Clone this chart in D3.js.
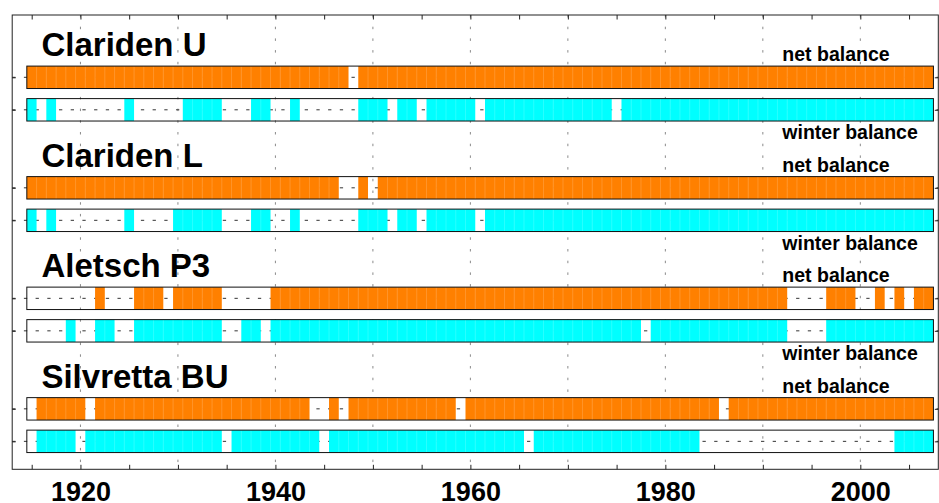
<!DOCTYPE html>
<html><head><meta charset="utf-8">
<script src="https://cdn.jsdelivr.net/npm/d3@7/dist/d3.min.js"></script>
<style>
body{margin:0;background:#fff}
svg{display:block}
text{font-family:"Liberation Sans",Arial,Helvetica,sans-serif;font-weight:bold;fill:#000}
</style>
</head><body>
<svg id="chart" width="939" height="503"></svg>
<script>
// ---- data ----
const glaciers = ["Clariden U", "Clariden L", "Aletsch P3", "Silvretta BU"];
const firstYear = 1915, lastYear = 2007;
const tickYears = [1920, 1940, 1960, 1980, 2000];
// runs of years with measurements [from, to]
const claridenUNet    = [[1915,1947],[1949,2007]];
const claridenUWinter = [[1915,1915],[1917,1917],[1925,1925],[1931,1934],[1938,1939],[1942,1942],[1949,1951],[1953,1954],[1956,1960],[1962,1974],[1976,2007]];
const claridenLNet    = [[1915,1946],[1949,1949],[1951,2007]];
const claridenLWinter = [[1915,1915],[1917,1917],[1925,1925],[1930,1934],[1938,1939],[1942,1942],[1949,1951],[1953,1954],[1956,1960],[1962,2007]];
const aletschNet      = [[1922,1922],[1926,1928],[1930,1934],[1940,1992],[1997,1999],[2002,2002],[2004,2004],[2006,2007]];
const aletschWinter   = [[1919,1919],[1922,1923],[1926,1934],[1937,1938],[1940,1977],[1979,1992],[1997,2007]];
const silvrettaNet    = [[1916,1920],[1922,1943],[1946,1946],[1948,1958],[1960,1985],[1987,2007]];
const silvrettaWinter = [[1916,1919],[1921,1934],[1936,1944],[1946,1965],[1967,1983],[2004,2007]];
const netSeries    = [claridenUNet, claridenLNet, aletschNet, silvrettaNet];
const winterSeries = [claridenUWinter, claridenLWinter, aletschWinter, silvrettaWinter];
const showWinterLabel = [true, true, true, false];

(function draw() {
  const svg = d3.select("#chart");
  const x = d3.scaleLinear().domain([1913, 2008]).range([12.2, 938.3]);
  const y = d3.scaleLinear().domain([-0.917, 13.06]).range([15, 469.3]);
  const groupStep = 3.4, half = 0.345;
  const colors = {net: "#ff8000", winter: "#00ffff"};

  const rows = [];
  glaciers.forEach((g, i) => {
    rows.push({name: g, kind: "net", pos: i * groupStep + 1, runs: netSeries[i]});
    rows.push({name: g, kind: "winter", pos: i * groupStep + 2, runs: winterSeries[i]});
  });
  const rowPos = rows.map(r => r.pos);
  const [xa, xb] = x.range(), [ya, yb] = y.range();

  // grid
  const gGrid = svg.append("g");
  gGrid.selectAll("line.v").data(d3.range(1920, 2001, 10)).join("line")
    .attr("x1", d => x(d)).attr("x2", d => x(d))
    .attr("y1", ya).attr("y2", yb)
    .attr("stroke", "#8a8a8a").attr("stroke-width", 1).attr("stroke-dasharray", "2.5,9.2");
  gGrid.selectAll("line.h").data(rowPos).join("line")
    .attr("x1", xa).attr("x2", xb)
    .attr("y1", d => y(d)).attr("y2", d => y(d))
    .attr("stroke", "#333").attr("stroke-width", 1).attr("stroke-dasharray", "3.3,8.4");

  // bars: one cell per measured year
  const gBars = svg.append("g");
  rows.forEach(r => {
    const yrs = r.runs.flatMap(([a, b]) => d3.range(a, b + 1));
    const yt = y(r.pos - half), hh = y(r.pos + half) - y(r.pos - half);
    const cells = gBars.append("g");
    cells.selectAll("rect").data(yrs).join("rect")
      .attr("x", d => x(d - 0.5))
      .attr("width", d => x(d + 0.5) - x(d - 0.5) + (yrs.includes(d + 1) ? 0.6 : 0))
      .attr("y", yt).attr("height", hh)
      .attr("fill", colors[r.kind]);
    // faint seams between adjacent yearly cells
    cells.selectAll("line").data(yrs.filter(d => yrs.includes(d + 1))).join("line")
      .attr("x1", d => x(d + 0.5)).attr("x2", d => x(d + 0.5))
      .attr("y1", yt).attr("y2", yt + hh)
      .attr("stroke", "#fff").attr("stroke-opacity", 0.16).attr("stroke-width", 1);
    gBars.append("rect")
      .attr("x", x(firstYear - 0.5)).attr("width", x(lastYear + 0.5) - x(firstYear - 0.5))
      .attr("y", yt).attr("height", hh)
      .attr("fill", "none").attr("stroke", "#111").attr("stroke-width", 1);
  });

  // axes box
  svg.append("rect").attr("x", xa).attr("y", ya).attr("width", xb - xa).attr("height", yb - ya)
    .attr("fill", "none").attr("stroke", "#222").attr("stroke-width", 1);

  const allTicks = d3.range(1915, 2006, 5);
  const axB = svg.append("g").attr("transform", `translate(0,${yb})`)
    .call(d3.axisBottom(x).tickValues(allTicks).tickSizeInner(-4.5).tickSizeOuter(0).tickPadding(2)
      .tickFormat(d => tickYears.includes(d) ? String(d) : ""));
  axB.select(".domain").remove();
  axB.selectAll("text").attr("font-size", 27).attr("dy", null).attr("y", 31.5)
    .style("font-family", '"Liberation Sans",Arial,sans-serif').style("font-weight", "bold").style("fill", "#000");

  const axT = svg.append("g").attr("transform", `translate(0,${ya})`)
    .call(d3.axisTop(x).tickValues(allTicks).tickSizeInner(-4.5).tickSizeOuter(0).tickFormat(""));
  axT.select(".domain").remove();

  const axL = svg.append("g").attr("transform", `translate(${xa},0)`)
    .call(d3.axisLeft(y).tickValues(rowPos).tickSizeInner(-3.5).tickSizeOuter(0).tickFormat(""));
  axL.select(".domain").remove();
  const axR = svg.append("g").attr("transform", `translate(${xb},0)`)
    .call(d3.axisRight(y).tickValues(rowPos).tickSizeInner(-3.5).tickSizeOuter(0).tickFormat(""));
  axR.select(".domain").remove();
  svg.selectAll(".tick line").attr("stroke", "#222");

  // labels
  glaciers.forEach((g, i) => {
    const net = i * groupStep + 1, win = net + 1;
    svg.append("text").attr("x", x(1916)).attr("y", y(net) - 21.2)
      .attr("font-size", 33).text(g);
    svg.append("text").attr("x", x(1992)).attr("y", y(net) - 16.2)
      .attr("font-size", 19.5).text("net balance");
    if (showWinterLabel[i]) {
      svg.append("text").attr("x", x(1992)).attr("y", y(win) + 29.2)
        .attr("font-size", 19.5).text("winter balance");
    }
  });
})();
</script>
</body></html>
